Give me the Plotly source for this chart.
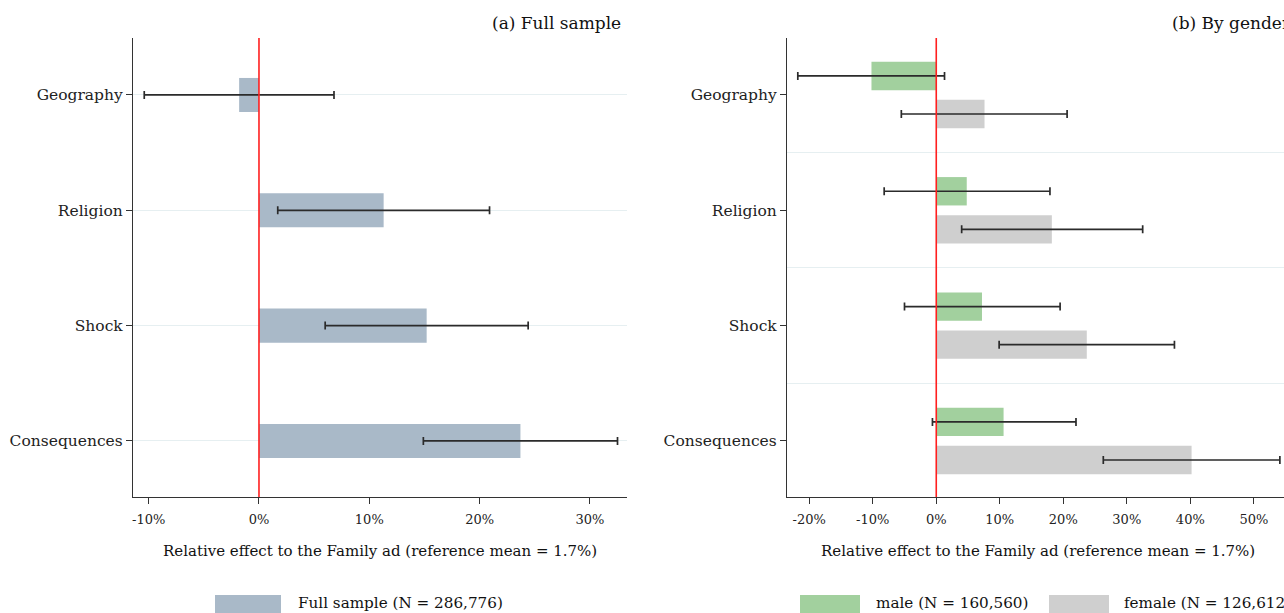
import numpy as np
import plotly.graph_objects as go

# ---------------- data ----------------
categories = ["Geography", "Religion", "Shock", "Consequences"]

full_est = [-1.8, 11.3, 15.2, 23.7]
full_lo = [-10.4, 1.7, 6.0, 14.9]
full_hi = [6.8, 20.9, 24.4, 32.5]

male_est = [-10.2, 4.8, 7.2, 10.6]
male_lo = [-21.8, -8.2, -5.0, -0.6]
male_hi = [1.3, 17.9, 19.5, 22.0]

female_est = [7.6, 18.2, 23.7, 40.2]
female_lo = [-5.5, 4.0, 9.9, 26.3]
female_hi = [20.6, 32.5, 37.5, 54.1]

left_ticks = [-10, 0, 10, 20, 30]
right_ticks = [-20, -10, 0, 10, 20, 30, 40, 50]

title_a = "(a) Full sample"
title_b = "(b) By gender"
xtitle = "Relative effect to the Family ad (reference mean = 1.7%)"
leg_full = "Full sample (N = 286,776)"
leg_male = "male (N = 160,560)"
leg_female = "female (N = 126,612)"

# ---------------- style ----------------
FONT = "DejaVu Serif"
C_FULL = "#a9b9c8"
C_MALE = "#a2d09e"
C_FEMALE = "#cfcfcf"
C_ERR = "#2b2b2b"
C_AXIS = "#333333"
C_GRID = "#e6eff1"

W, H = 1284, 613
def px_x(p):
    return p / W
def px_y(p):
    return 1 - p / H

ypos = np.arange(len(categories))

def err(est, lo, hi):
    est, lo, hi = map(np.asarray, (est, lo, hi))
    return dict(type="data", symmetric=False, array=hi - est, arrayminus=est - lo,
                color=C_ERR, thickness=1.7, width=4)

fig = go.Figure()

fig.add_trace(go.Bar(x=full_est, y=ypos, orientation="h", marker_color=C_FULL,
                     marker_line_width=0, width=0.295, error_x=err(full_est, full_lo, full_hi),
                     xaxis="x", yaxis="y", showlegend=False, name=leg_full))
fig.add_trace(go.Bar(x=male_est, y=ypos, orientation="h", marker_color=C_MALE,
                     marker_line_width=0, width=0.246, offset=-0.165 - 0.123,
                     error_x=err(male_est, male_lo, male_hi),
                     xaxis="x2", yaxis="y2", showlegend=False, name=leg_male))
fig.add_trace(go.Bar(x=female_est, y=ypos, orientation="h", marker_color=C_FEMALE,
                     marker_line_width=0, width=0.246, offset=0.165 - 0.123,
                     error_x=err(female_est, female_lo, female_hi),
                     xaxis="x2", yaxis="y2", showlegend=False, name=leg_female))

yrange = [3.486, -0.494]
common_x = dict(showline=True, linecolor=C_AXIS, linewidth=1.3, ticks="outside",
                ticklen=6, tickcolor=C_AXIS, tickwidth=1.3, showgrid=False, zeroline=False,
                tickfont=dict(family=FONT, size=13, color="#222"), ticklabelstandoff=4)
common_y = dict(showline=True, linecolor=C_AXIS, linewidth=1.3, ticks="outside",
                ticklen=6, tickcolor=C_AXIS, tickwidth=1.3, zeroline=False,
                tickvals=list(ypos), ticktext=categories, range=yrange,
                tickfont=dict(family=FONT, size=15.5, color="#222"))

fig.update_layout(
    width=W, height=H, margin=dict(l=0, r=0, t=0, b=0),
    paper_bgcolor="white", plot_bgcolor="white", barmode="overlay",
    xaxis=dict(domain=[px_x(133), px_x(627)], range=[-11.42, 33.36],
               tickvals=left_ticks, ticktext=[f"{v}%" for v in left_ticks], anchor="y",
               **common_x),
    yaxis=dict(domain=[px_y(497), px_y(38)], anchor="x", showgrid=True,
               gridcolor=C_GRID, gridwidth=1, **common_y),
    xaxis2=dict(domain=[px_x(787), 1.0], range=[-23.5, 54.75],
                tickvals=right_ticks, ticktext=[f"{v}%" for v in right_ticks], anchor="y2",
                **common_x),
    yaxis2=dict(domain=[px_y(497), px_y(38)], anchor="x2", showgrid=False,
                minor=dict(tickvals=[0.5, 1.5, 2.5], showgrid=True, gridcolor=C_GRID,
                           gridwidth=1, ticks=""),
                **common_y),
)

# zero reference lines
for xr, yr in (("x", "y domain"), ("x2", "y2 domain")):
    fig.add_shape(type="line", xref=xr, yref=yr, x0=0, x1=0, y0=0, y1=1,
                  line=dict(color="#ff1f1f", width=1.6), layer="above")

# panel titles
fig.add_annotation(text=title_a, xref="paper", yref="paper", x=px_x(623), y=px_y(23),
                   xanchor="right", yanchor="middle", showarrow=False,
                   font=dict(family=FONT, size=17, color="#111"))
fig.add_annotation(text=title_b, xref="paper", yref="paper", x=px_x(1170), y=px_y(23),
                   xanchor="left", yanchor="middle", showarrow=False,
                   font=dict(family=FONT, size=17, color="#111"))

# axis titles
fig.add_annotation(text=xtitle, xref="paper", yref="paper", x=px_x(380), y=px_y(551),
                   xanchor="center", yanchor="middle", showarrow=False,
                   font=dict(family=FONT, size=15, color="#111"))
fig.add_annotation(text=xtitle, xref="paper", yref="paper", x=px_x(1038), y=px_y(551),
                   xanchor="center", yanchor="middle", showarrow=False,
                   font=dict(family=FONT, size=15, color="#111"))

# legends (drawn manually to match the wide swatches)
def legend_item(x0, x1, color, text, tx):
    fig.add_shape(type="rect", xref="paper", yref="paper", x0=px_x(x0), x1=px_x(x1),
                  y0=px_y(613), y1=px_y(595), fillcolor=color, line_width=0)
    fig.add_annotation(text=text, xref="paper", yref="paper", x=px_x(tx), y=px_y(603),
                       xanchor="left", yanchor="middle", showarrow=False,
                       font=dict(family=FONT, size=15.2, color="#111"))

legend_item(215, 281, C_FULL, leg_full, 296)
legend_item(800, 860, C_MALE, leg_male, 874)
legend_item(1049, 1109, C_FEMALE, leg_female, 1122)

fig.write_html("out.html", config={"displayModeBar": False},
               post_script="document.body.style.margin='0';document.body.style.overflow='hidden';")
